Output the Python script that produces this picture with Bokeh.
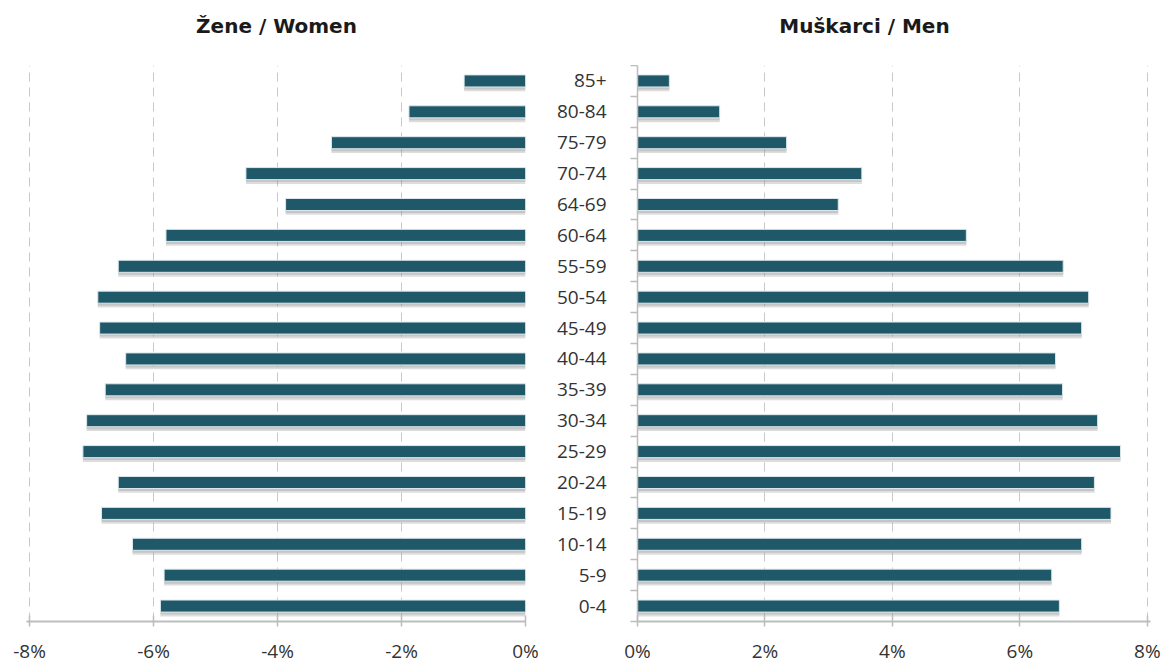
from bokeh.plotting import figure
from bokeh.layouts import row, column
from bokeh.models import (ColumnDataSource, Range1d, FixedTicker, LinearAxis,
                          PrintfTickFormatter, Label)
from bokeh.transform import dodge
from bokeh.embed import file_html
from bokeh.resources import INLINE

# Age groups, youngest first (bottom of the pyramid)
ages = ["0-4", "5-9", "10-14", "15-19", "20-24", "25-29", "30-34", "35-39",
        "40-44", "45-49", "50-54", "55-59", "60-64", "64-69", "70-74",
        "75-79", "80-84", "85+"]

# Share of population in each age group (%)
women = [5.89, 5.83, 6.34, 6.84, 6.57, 7.14, 7.08, 6.78, 6.45, 6.87, 6.90,
         6.57, 5.80, 3.87, 4.51, 3.13, 1.88, 0.99]
men = [6.62, 6.50, 6.97, 7.43, 7.17, 7.58, 7.22, 6.67, 6.56, 6.97, 7.08,
       6.68, 5.16, 3.15, 3.52, 2.34, 1.29, 0.50]

x_ticks_women = [-8, -6, -4, -2, 0]
x_ticks_men = [0, 2, 4, 6, 8]

BAR = "#1f5868"
EDGE = "#dce8ec"
SHADOW = "#8f8f8f"
GRID = "#c8c8c8"
AXIS = "#bdbdbd"
TXT = "#333333"
FONT = "Open Sans"

n = len(ages)
pos = list(range(n))

src_w = ColumnDataSource(dict(y=pos, left=[-v for v in women], age=ages))
src_m = ColumnDataSource(dict(y=pos, right=men, age=ages))

common = dict(frame_height=556, min_border_top=0, min_border_bottom=44,
              y_range=Range1d(-0.5, n - 0.5), output_backend="svg",
              toolbar_location=None, background_fill_color="white",
              border_fill_color="white", outline_line_color=None)

BAR_H = 0.39


def style_x(p, ticks):
    ax = p.xaxis[0]
    ax.ticker = FixedTicker(ticks=ticks)
    ax.formatter = PrintfTickFormatter(format="%d%%")
    ax.axis_line_color = AXIS
    ax.axis_line_width = 2
    ax.major_tick_line_color = AXIS
    ax.major_tick_line_width = 1.5
    ax.major_tick_in = 6
    ax.major_tick_out = 5
    ax.minor_tick_line_color = None
    ax.major_label_standoff = 11
    ax.major_label_text_font = FONT
    ax.major_label_text_font_size = "19px"
    ax.major_label_text_color = TXT
    p.xgrid.ticker = FixedTicker(ticks=ticks)
    p.xgrid.grid_line_color = GRID
    p.xgrid.grid_line_dash = "9 6"
    p.xgrid.grid_line_width = 1
    p.ygrid.grid_line_color = None


def add_bars(p, src, **ends):
    # soft drop shadow under each bar, then the bar itself
    p.hbar(y=dodge("y", -0.14), height=BAR_H, source=src,
           fill_color=SHADOW, fill_alpha=0.3, line_color=None, **ends)
    p.hbar(y=dodge("y", -0.08), height=BAR_H, source=src,
           fill_color=SHADOW, fill_alpha=0.3, line_color=None, **ends)
    p.hbar(y="y", height=BAR_H, source=src, fill_color=BAR,
           line_color=EDGE, line_width=1, **ends)


# Women: bars grow to the left
pw = figure(frame_width=499, min_border_left=26, min_border_right=25,
            x_range=Range1d(-8.05, 0), y_axis_location=None, **common)
style_x(pw, x_ticks_women)
add_bars(pw, src_w, left="left", right=0)

# Men: bars grow to the right, age labels on the shared middle axis
pm = figure(frame_width=513, min_border_left=87, min_border_right=16,
            x_range=Range1d(0, 8.05), y_axis_location=None, **common)
style_x(pm, x_ticks_men)
yax = LinearAxis(ticker=FixedTicker(ticks=pos,
                                    minor_ticks=[i - 0.5 for i in range(n + 1)]))
yax.major_label_overrides = {i: a for i, a in zip(pos, ages)}
yax.axis_line_color = AXIS
yax.axis_line_width = 1.5
yax.major_tick_line_color = None
yax.major_tick_in = 0
yax.major_tick_out = 0
yax.minor_tick_line_color = AXIS
yax.minor_tick_line_width = 1.5
yax.minor_tick_in = 0
yax.minor_tick_out = 7
yax.major_label_standoff = 24
yax.major_label_text_font = FONT
yax.major_label_text_font_size = "19px"
yax.major_label_text_color = TXT
pm.add_layout(yax, "left")
add_bars(pm, src_m, left=0, right="right")


# Heading strips above each panel
def heading(width, cx, text):
    h = figure(frame_width=width, frame_height=65, min_border=0,
               x_range=Range1d(0, width), y_range=Range1d(0, 65),
               x_axis_location=None, y_axis_location=None,
               output_backend="svg", toolbar_location=None,
               outline_line_color=None)
    h.grid.grid_line_color = None
    h.add_layout(Label(x=cx, y=40, text=text, text_align="center",
                       text_baseline="middle", text_font="DejaVu Sans",
                       text_font_style="bold", text_font_size="20px",
                       text_color="#1a1a1a"))
    return h


hw = heading(550, 276, "Žene / Women")
hm = heading(616, 314, "Muškarci / Men")

layout = column(row(hw, hm), row(pw, pm))
open("out.html", "w").write(file_html(layout, INLINE))
